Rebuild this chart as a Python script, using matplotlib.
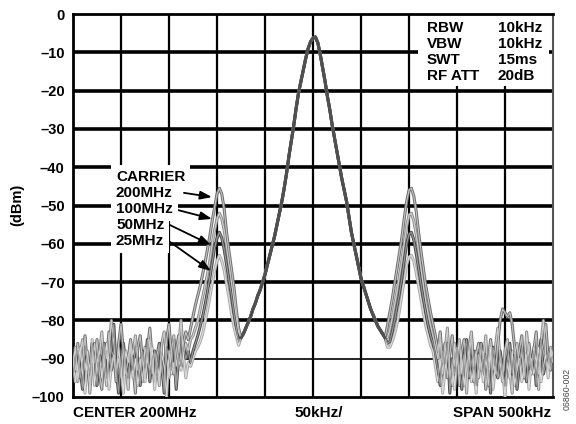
import numpy as np
import matplotlib
matplotlib.use("Agg")
import matplotlib.pyplot as plt
from matplotlib.patches import Rectangle

plt.rcParams['font.family'] = ['Liberation Sans', 'DejaVu Sans']

# ---------------- data (dBm) on 2.5 kHz grid, offset from 200 MHz centre ----------------
step = 2.5
f_noise_left = -250 + step * np.arange(50)      # -250 .. -127.5 kHz
f_spur_left = -125 + step * np.arange(20)       # -125 .. -77.5
f_carrier = -75 + step * np.arange(61)          # -75 .. 75
f_spur_right = 77.5 + step * np.arange(20)      # 77.5 .. 125
f_noise_right = 127.5 + step * np.arange(50)    # 127.5 .. 250

carrier = [-84.5, -83.5, -82, -80.5, -79, -77, -75.5, -73.5, -72, -70,
           -68, -65.5, -63, -60.5, -58, -55, -52, -49, -45.5, -41.5,
           -37, -33, -29, -24.5, -20.5, -17.5, -14.5, -11.5, -9, -7.2,
           -6.3,
           -6.0, -7.5, -10.5, -14, -17.5, -21.5, -25, -29, -32.5, -36,
           -39.5, -43, -46, -49, -53, -57, -60, -63, -66, -69,
           -71, -73, -75, -77, -78.5, -80, -81.5, -82.5, -83.5, -84.5]

labels = ['200MHz', '100MHz', '50MHz', '25MHz']

noise_left = {
    '200MHz': [-89, -93, -86, -95, -90, -84, -92, -97, -88, -91,
               -85, -94, -98, -87, -90, -83, -93, -89, -96, -86,
               -81, -88, -94, -90, -85, -92, -99, -87, -84, -91,
               -95, -88, -82, -90, -96, -89, -86, -93, -97, -85,
               -81, -89, -94, -88, -84, -91, -86, -83, -85, -82],
    '100MHz': [-92, -87, -96, -89, -85, -93, -88, -99, -91, -86,
               -94, -89, -83, -91, -97, -88, -80, -86, -93, -90,
               -95, -87, -92, -98, -86, -89, -84, -93, -90, -96,
               -87, -91, -85, -94, -88, -92, -97, -86, -83, -90,
               -95, -88, -84, -92, -87, -80, -89, -86, -88, -85],
    '50MHz': [-95, -90, -88, -93, -98, -87, -91, -94, -86, -90,
              -97, -89, -92, -86, -95, -91, -88, -81, -93, -99,
              -90, -86, -92, -95, -89, -93, -87, -91, -97, -88,
              -92, -85, -96, -90, -88, -94, -86, -91, -99, -87,
              -90, -93, -85, -98, -89, -92, -87, -90, -88, -91],
    '25MHz': [-90, -96, -92, -87, -94, -99, -89, -93, -85, -97,
              -91, -88, -95, -90, -86, -98, -92, -89, -94, -87,
              -93, -99, -88, -91, -86, -95, -90, -97, -92, -89,
              -96, -90, -93, -87, -98, -91, -95, -89, -92, -100,
              -88, -94, -91, -97, -90, -93, -89, -95, -91, -92],
}

spur_left = {
    '200MHz': [-79, -76, -73.5, -71, -68, -65, -61.5, -58, -54, -50.5,
               -47, -45.5, -47, -51, -57, -62, -66.5, -71, -77, -82],
    '100MHz': [-84, -82, -80, -77, -74, -71, -68, -64.5, -60, -56.5,
               -53.5, -52, -53.5, -56.5, -61, -65.5, -70, -74.5, -79, -83],
    '50MHz': [-88, -86, -84, -81.5, -79, -76, -72.5, -69, -65, -61,
              -58.5, -57, -58.5, -61.5, -65.5, -69.5, -73.5, -78, -82, -85.5],
    '25MHz': [-90, -88, -87, -85.5, -83.5, -80.5, -77.5, -74, -70.5, -67,
              -64.5, -63, -64.5, -67, -70.5, -74, -78, -81.5, -84, -86.5],
}

spur_right = {
    '200MHz': [-81.5, -78, -74.5, -70.5, -66.5, -62.5, -58.5, -53.5, -49, -46,
               -45.5, -47.5, -51.5, -57, -62, -66.5, -71, -74.5, -78, -81],
    '100MHz': [-84.5, -82.5, -79.5, -76, -72.5, -68.5, -64.5, -60, -55.5, -52.5,
               -52, -54, -57.5, -62, -66.5, -71, -75, -78.5, -81.5, -84],
    '50MHz': [-86, -85.5, -83, -80, -76.5, -73, -69, -64.5, -60, -57.5,
              -57, -59, -62.5, -66.5, -70.5, -74.5, -78, -81.5, -84, -86],
    '25MHz': [-87, -87, -85.5, -83.5, -81, -77.5, -73.5, -69.5, -65.5, -63.5,
              -63, -64.5, -67.5, -71, -74.5, -78, -81.5, -84, -86.5, -88],
}

noise_right = {
    '200MHz': [-84, -88, -83, -91, -86, -95, -89, -84, -92, -87,
               -97, -88, -85, -93, -90, -84, -96, -89, -86, -93,
               -88, -98, -91, -85, -90, -94, -86, -80, -77, -78,
               -79, -78, -81, -87, -93, -88, -84, -95, -90, -86,
               -92, -88, -83, -94, -89, -86, -81, -90, -93, -88],
    '100MHz': [-87, -90, -85, -94, -88, -82, -93, -97, -86, -91,
               -85, -94, -89, -99, -87, -83, -92, -88, -95, -86,
               -90, -84, -97, -89, -93, -87, -82, -91, -96, -88,
               -85, -93, -99, -89, -86, -92, -88, -95, -83, -90,
               -94, -87, -91, -98, -86, -80, -89, -93, -87, -90],
    '50MHz': [-89, -93, -97, -88, -91, -86, -99, -90, -94, -87,
              -92, -98, -89, -85, -95, -91, -88, -97, -90, -86,
              -94, -89, -92, -99, -87, -91, -95, -88, -93, -97,
              -90, -86, -94, -89, -98, -92, -87, -91, -96, -89,
              -93, -88, -97, -90, -85, -94, -91, -88, -92, -89],
    '25MHz': [-92, -96, -90, -99, -93, -88, -95, -91, -98, -89,
              -94, -90, -97, -92, -88, -96, -93, -99, -89, -91,
              -96, -90, -94, -87, -98, -92, -95, -89, -93, -100,
              -91, -95, -88, -97, -93, -90, -96, -92, -89, -98,
              -90, -94, -91, -87, -96, -92, -89, -95, -88, -91],
}

# (edge colour, core colour) per trace
trace_colors = {'200MHz': ('#6e6e6e', '#c4c4c4'), '100MHz': ('#8c8c8c', '#d0d0d0'),
                '50MHz': ('#4a4a4a', '#9a9a9a'), '25MHz': ('#a8a8a8', '#dddddd')}

yticks = [0, -10, -20, -30, -40, -50, -60, -70, -80, -90, -100]
ytick_labels = ['0', '–10', '–20', '–30', '–40', '–50', '–60', '–70', '–80', '–90', '–100']
xgrid = [-200, -150, -100, -50, 0, 50, 100, 150, 200]

settings = [('RBW', '10kHz'), ('VBW', '10kHz'), ('SWT', '15ms'), ('RF ATT', '20dB')]

# ---------------- figure ----------------
fig = plt.figure(figsize=(5.76, 4.24), dpi=100)
ax = fig.add_axes([73 / 576, 1 - 397 / 424, 480 / 576, 383 / 424])
ax.set_xlim(-250, 250)
ax.set_ylim(-100, 0)

# grid
for yv in yticks[1:-2]:
    ax.axhline(yv, color='black', lw=2.6, zorder=1)
ax.axhline(-90, color='black', lw=1.2, zorder=1)
for xv in xgrid:
    ax.axvline(xv, color='black', lw=1.6, zorder=1)

# traces
f_all = np.concatenate([f_noise_left, f_spur_left, f_carrier, f_spur_right, f_noise_right])
for lab in ['25MHz', '100MHz', '200MHz', '50MHz']:
    y = np.concatenate([noise_left[lab], spur_left[lab], carrier, spur_right[lab], noise_right[lab]])
    edge, core = trace_colors[lab]
    ax.plot(f_all, y, color=edge, lw=2.2, zorder=3, solid_joinstyle='round')
    ax.plot(f_all, y, color=core, lw=0.8, zorder=3.1, solid_joinstyle='round')
# shared carrier on top (all traces coincide here)
ax.plot(f_carrier, carrier, color='#4f4f4f', lw=1.9, zorder=3.5, solid_joinstyle='round')

ax.set_yticks(yticks)
ax.set_yticklabels(ytick_labels, fontsize=10.5, fontweight='bold')
ax.set_xticks([])
ax.tick_params(axis='y', length=0, pad=6)

for s in ['left', 'bottom', 'top']:
    ax.spines[s].set_linewidth(2.0)
    ax.spines[s].set_color('black')
ax.spines['right'].set_linewidth(1.5)
ax.spines['right'].set_color('#555555')

# settings box (top right)
ax.add_patch(Rectangle((0.719, 0.812), 0.273, 0.188, transform=ax.transAxes,
                       facecolor='white', edgecolor='none', zorder=2))
for i, (k, v) in enumerate(settings):
    yy = 28 + 16 * i
    fig.text(427 / 576, 1 - yy / 424, k, fontsize=11, fontweight='bold', va='center', ha='left', zorder=5)
    fig.text(498 / 576, 1 - yy / 424, v, fontsize=11, fontweight='bold', va='center', ha='left', zorder=5)

# carrier labels with arrows
label_lines = ['CARRIER'] + labels
for i, t in enumerate(label_lines):
    yy = 177 + 16 * i
    fig.text(116 / 576, 1 - yy / 424, t, fontsize=11, fontweight='bold', va='center', ha='left',
             zorder=5, bbox=dict(facecolor='white', edgecolor='none', pad=3.5))

arrows = [((-134.4, -46.7), (-105.2, -47.8)),
          ((-140.6, -51.2), (-105.2, -53.5)),
          ((-149.0, -55.1), (-106.3, -60.3)),
          ((-149.0, -59.5), (-106.3, -67.1))]
for tail, head in arrows:
    ax.annotate('', xy=head, xytext=tail,
                arrowprops=dict(arrowstyle='-|>,head_length=0.7,head_width=0.25', color='black',
                                lw=1.3, shrinkA=0, shrinkB=0), zorder=6)

# axis texts
fig.text(17 / 576, 1 - 205 / 424, '(dBm)', rotation=90, fontsize=10.5, fontweight='bold',
         va='center', ha='center')
fig.text(73 / 576, 1 - 413 / 424, 'CENTER 200MHz', fontsize=11, fontweight='bold', va='center', ha='left')
fig.text(319 / 576, 1 - 413 / 424, '50kHz/', fontsize=11, fontweight='bold', va='center', ha='center')
fig.text(551 / 576, 1 - 413 / 424, 'SPAN 500kHz', fontsize=11, fontweight='bold', va='center', ha='right')
fig.text(567 / 576, 1 - 389 / 424, '06860-002', rotation=90, fontsize=6.3, color='#444444',
         va='center', ha='center')

fig.savefig('out.png', dpi=100)
